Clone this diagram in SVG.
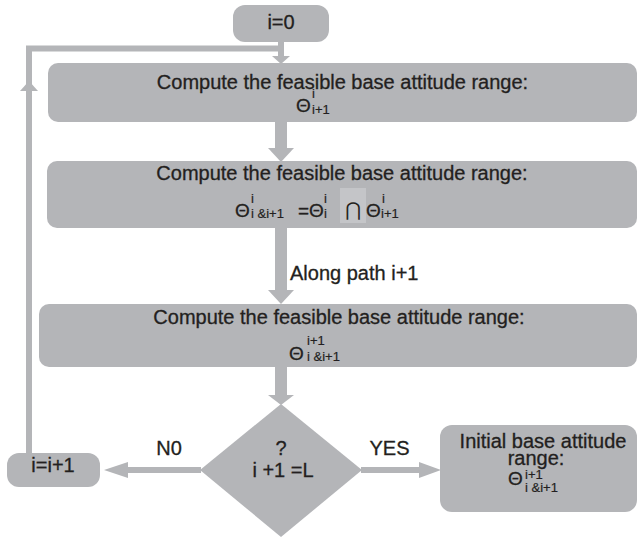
<svg xmlns="http://www.w3.org/2000/svg" width="639" height="540" viewBox="0 0 639 540">
<style>
.box{fill:#b4b5b8;}
.t{font-family:"Liberation Sans",Arial,sans-serif;font-size:20px;fill:#231f20;stroke:#231f20;stroke-width:0.3;}
.c{text-anchor:middle;}
.g{font-family:"Liberation Sans",Arial,sans-serif;font-size:19px;fill:#231f20;stroke:#231f20;stroke-width:0.3;}
.s{font-family:"Liberation Sans",Arial,sans-serif;font-size:13px;fill:#231f20;stroke:#231f20;stroke-width:0.2;}
.ln{fill:none;stroke:#b4b5b8;}
.ah{fill:#b4b5b8;}
</style>
<rect width="639" height="540" fill="#ffffff"/>
<g id="connectors">
  <polyline class="ln" stroke-width="6" points="29,455 29,48.5 281,48.5"/>
  <polygon class="ah" points="29,81 20,91 38,91"/>
  <line class="ln" stroke-width="6" x1="281" y1="42" x2="281" y2="57"/>
  <polygon class="ah" points="272,56 290,56 281,64"/>
  <line class="ln" stroke-width="12" x1="281" y1="121" x2="281" y2="149"/>
  <polygon class="ah" points="268,148 294,148 281,162"/>
  <line class="ln" stroke-width="12" x1="281" y1="227" x2="281" y2="292"/>
  <polygon class="ah" points="268,290 294,290 281,304"/>
  <text class="t" x="290" y="280">Along path i+1</text>
  <line class="ln" stroke-width="12" x1="281" y1="366" x2="281" y2="396"/>
  <polygon class="ah" points="268,395 294,395 281,405"/>
  <line class="ln" stroke-width="6" x1="201" y1="470" x2="126" y2="470"/>
  <polygon class="ah" points="104,470 128,462 128,478"/>
  <text class="t c" x="169" y="455">N0</text>
  <line class="ln" stroke-width="6" x1="361" y1="470" x2="422" y2="470"/>
  <polygon class="ah" points="441,470 419,462 419,478"/>
  <text class="t c" x="389.5" y="455">YES</text>
</g>
<g id="start">
  <rect class="box" x="233" y="5" width="96" height="37" rx="12"/>
  <text class="t c" x="281" y="29">i=0</text>
</g>
<g id="step1">
  <rect class="box" x="48" y="63" width="589" height="59" rx="10"/>
  <text class="t c" x="342.5" y="89">Compute the feasible base attitude range:</text>
  <text class="g" x="296" y="112">Θ</text>
  <text class="s" x="312" y="98">i</text>
  <text class="s" x="312" y="114">i+1</text>
</g>
<g id="step2">
  <rect class="box" x="47" y="161" width="590" height="67" rx="10"/>
  <text class="t c" x="342" y="180">Compute the feasible base attitude range:</text>
  <text class="g" x="235" y="217">Θ</text>
  <text class="s" x="251" y="203">i</text>
  <text class="s" x="251" y="218">i &amp;i+1</text>
  <text class="g" x="298" y="217">=Θ</text>
  <text class="s" x="324" y="203">i</text>
  <text class="s" x="324" y="218">i</text>
  <rect x="340" y="188" width="26" height="35" fill="#c4c5c8"/>
  <text x="353" y="216" text-anchor="middle" font-family="DejaVu Sans,sans-serif" font-size="19" fill="#231f20">⋂</text>
  <text class="g" x="366" y="217">Θ</text>
  <text class="s" x="382" y="203">i</text>
  <text class="s" x="381" y="218">i+1</text>
</g>
<g id="step3">
  <rect class="box" x="39" y="304" width="598" height="63" rx="10"/>
  <text class="t c" x="339" y="324">Compute the feasible base attitude range:</text>
  <text class="g" x="289" y="360">Θ</text>
  <text class="s" x="307" y="345">i+1</text>
  <text class="s" x="307" y="361">i &amp;i+1</text>
</g>
<g id="decision">
  <polygon class="box" points="281,404 362,470 281,537 200,470"/>
  <text class="t c" x="281" y="455">?</text>
  <text class="t c" x="283" y="477">i +1 =L</text>
</g>
<g id="increment">
  <rect class="box" x="7" y="453" width="93" height="34" rx="12"/>
  <text class="t c" x="53" y="472">i=i+1</text>
</g>
<g id="result">
  <rect class="box" x="440" y="425" width="197" height="87" rx="12"/>
  <text class="t c" x="543" y="448">Initial base attitude</text>
  <text class="t c" x="536" y="465">range:</text>
  <text class="g" x="508" y="485">Θ</text>
  <text class="s" x="525" y="479">i+1</text>
  <text class="s" x="525" y="492">i &amp;i+1</text>
</g>
</svg>
